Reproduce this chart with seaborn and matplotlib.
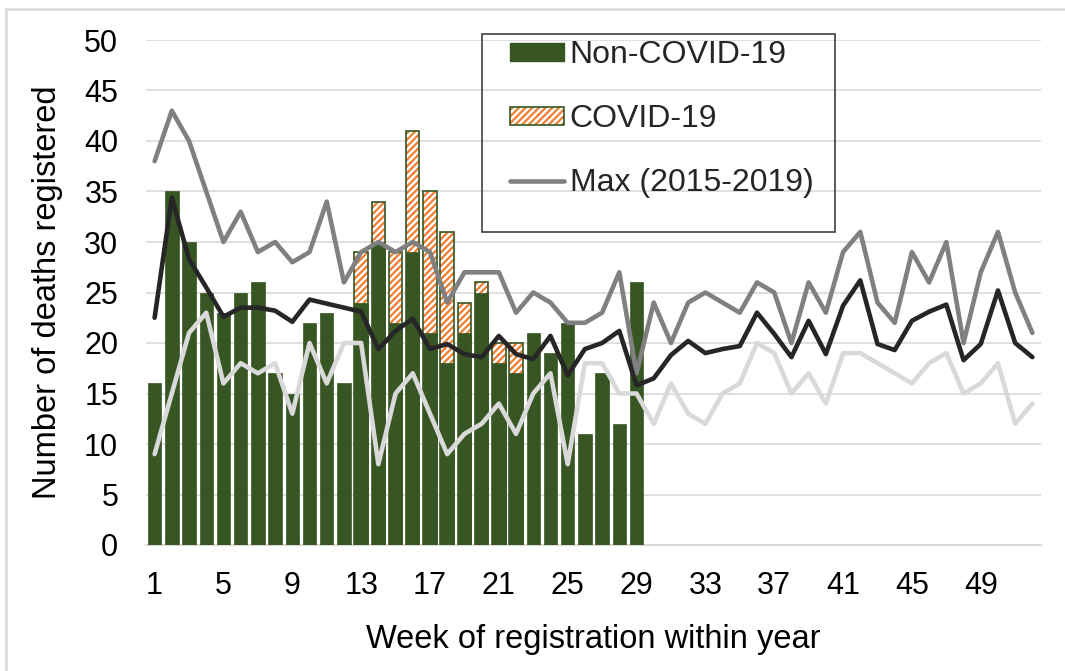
import numpy as np
import pandas as pd
import matplotlib
matplotlib.use("Agg")
import matplotlib.pyplot as plt
from matplotlib.patches import Patch, Rectangle
from matplotlib.lines import Line2D
import seaborn as sns

# ---- data ----
weeks_all = list(range(1, 53))
weeks_2020 = list(range(1, 30))
non_covid = [16, 35, 30, 25, 23, 25, 26, 17, 15, 22, 23, 16, 24, 30, 22, 29, 21, 18,
             21, 25, 18, 17, 21, 19, 22, 11, 17, 12, 26]
covid = [0, 0, 0, 0, 0, 0, 0, 0, 0, 0, 0, 0, 5, 4, 7, 12, 14, 13, 3, 1, 2, 3,
         0, 0, 0, 0, 0, 0, 0]
max_1519 = [38, 43, 40, 35, 30, 33, 29, 30, 28, 29, 34, 26, 29, 30, 29, 30, 29, 24, 27, 27,
            27, 23, 25, 24, 22, 22, 23, 27, 17, 24, 20, 24, 25, 24, 23, 26, 25, 20, 26, 23,
            29, 31, 24, 22, 29, 26, 30, 20, 27, 31, 25, 21]
avg_1519 = [22.5, 34.4, 28.3, 25.5, 22.6, 23.5, 23.5, 23.2, 22.1, 24.3, 23.9, 23.5, 23.1, 19.4,
            21.2, 22.4, 19.4, 19.9, 18.9, 18.6, 20.7, 18.9, 18.4, 20.7, 16.8, 19.4, 20.0, 21.2,
            15.8, 16.5, 18.8, 20.2, 19.0, 19.4, 19.7, 23.0, 20.9, 18.6, 22.2, 18.9, 23.7, 26.2,
            19.9, 19.3, 22.2, 23.1, 23.8, 18.3, 19.9, 25.2, 20.0, 18.6]
min_1519 = [9, 15, 21, 23, 16, 18, 17, 18, 13, 20, 16, 20, 20, 8, 15, 17, 13, 9, 11, 12,
            14, 11, 15, 17, 8, 18, 18, 15, 15, 12, 16, 13, 12, 15, 16, 20, 19, 15, 17, 14,
            19, 19, 18, 17, 16, 18, 19, 15, 16, 18, 12, 14]
x_tick_labels = [str(w) for w in range(1, 53, 4)]
legend_labels = ["Non-COVID-19", "COVID-19", "Max (2015-2019)"]

# ---- styling ----
GREEN = "#375623"
ORANGE = "#ED7D31"
GRID = "#d9d9d9"

sns.set_theme(style="white")
plt.rcParams["font.family"] = ["Liberation Sans", "DejaVu Sans"]
plt.rcParams["hatch.linewidth"] = 1.6
FS_TICK = 22
FS_LAB = 23.5
FS_LEG = 23
LW = 3.3

df_bar = pd.DataFrame({"week": weeks_2020, "non": non_covid, "covid": covid})
df_bar["total"] = df_bar["non"] + df_bar["covid"]
df_cov = df_bar[df_bar["covid"] > 0]

fig = plt.figure(figsize=(10.65, 6.71), dpi=100)
ax = fig.add_axes([146 / 1065, 1 - 545 / 671, (1041 - 146) / 1065, 505 / 671])

# hatched COVID part (drawn as total, later covered by non-COVID part)
sns.barplot(data=df_cov, x="week", y="total", native_scale=True, orient="x", width=0.78,
            color="white", edgecolor=ORANGE, hatch="/////", linewidth=0, ax=ax, zorder=2)
sns.barplot(data=df_cov, x="week", y="total", native_scale=True, orient="x", width=0.78,
            fill=False, edgecolor=GREEN, linewidth=1.2, ax=ax, zorder=2)
sns.barplot(data=df_bar, x="week", y="non", native_scale=True, orient="x", width=0.78,
            color=GREEN, saturation=1, edgecolor=GREEN, linewidth=0.5, ax=ax, zorder=3)

sns.lineplot(x=weeks_all, y=min_1519, color="#d9d9d9", linewidth=LW, ax=ax, zorder=4)
sns.lineplot(x=weeks_all, y=max_1519, color="#808080", linewidth=LW, ax=ax, zorder=5)
sns.lineplot(x=weeks_all, y=avg_1519, color="#262626", linewidth=LW, ax=ax, zorder=6)

ax.set_xlim(0.5, 52.5)
ax.set_ylim(0, 50)
ax.set_yticks(np.arange(0, 51, 5))
ax.yaxis.grid(True, color=GRID, linewidth=1.2)
ax.xaxis.grid(False)
ax.set_axisbelow(True)
for s in ["left", "right", "top"]:
    ax.spines[s].set_visible(False)
ax.spines["bottom"].set_color(GRID)
ax.spines["bottom"].set_linewidth(1.5)
ax.spines["bottom"].set_zorder(1)

ax.set_xticks(list(range(1, 53, 4)))
ax.set_xticklabels(x_tick_labels)
ax.set_xticks(np.arange(0.5, 53, 1), minor=True)
ax.tick_params(axis="x", which="major", length=0, pad=19, labelsize=FS_TICK, colors="black")
ax.tick_params(axis="x", which="minor", length=7, width=1.2, color=GRID, direction="out")
ax.tick_params(axis="y", length=0, pad=20, labelsize=FS_TICK, colors="black")

ax.set_xlabel("Week of registration within year", fontsize=FS_LAB, labelpad=16, color="black")
ax.set_ylabel("Number of deaths registered", fontsize=FS_LAB, labelpad=15, color="black")

# legend (frame drawn separately)
h_non = Patch(facecolor=GREEN, edgecolor=GREEN)
h_cov = (Patch(facecolor="white", edgecolor=ORANGE, hatch="/////", linewidth=0),
         Patch(fill=False, edgecolor=GREEN, linewidth=1.2))
h_max = Line2D([], [], color="#808080", linewidth=LW)
leg = fig.legend([h_non, h_cov, h_max], legend_labels, loc="upper left",
                 bbox_to_anchor=(494 / 1065, 1 - 24 / 671), frameon=False,
                 fontsize=FS_LEG, handlelength=1.7, handleheight=0.5, handletextpad=0.17,
                 labelspacing=1.07, borderpad=0)
fig.add_artist(Rectangle((482 / 1065, 1 - 232 / 671), 353 / 1065, 198 / 671,
                         transform=fig.transFigure, fill=False, edgecolor="#404040",
                         linewidth=1.2, zorder=10))

# outer chart frame (left and top edges visible in the crop)
fig.add_artist(Rectangle((6 / 1065, -0.05), 1.2, 1 - 9 / 671 + 0.05,
                         transform=fig.transFigure, fill=False, edgecolor=GRID,
                         linewidth=1.8))

fig.savefig("out.png", dpi=100)
